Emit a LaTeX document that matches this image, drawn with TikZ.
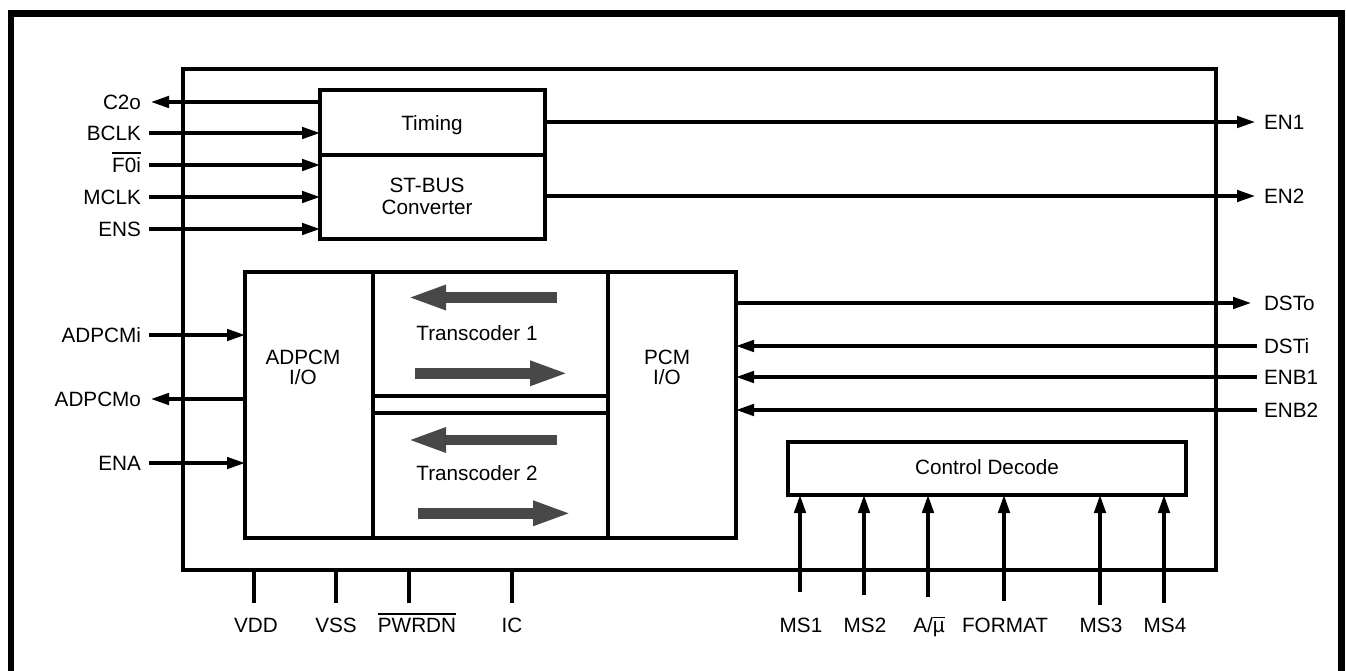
\documentclass[tikz,border=0pt]{standalone}
\usepackage{fontspec}
\setmainfont{Liberation Sans}
\usetikzlibrary{arrows.meta}
\definecolor{arrgray}{RGB}{72,72,72}
\newcommand\myovl[1]{\leavevmode\vbox{\hrule height 1.8pt\kern 3.2pt\hbox{#1}}}
\begin{document}
\begin{tikzpicture}[x=1pt,y=-1pt,
  blk/.style={draw,line width=4pt,inner sep=0pt,outer sep=0pt,anchor=north west},
  conn/.style={line width=3.2pt},
  arr/.style={conn,-{Triangle[length=18pt,width=11.5pt]}},
  bigarr/.style={draw=arrgray,line width=10.4pt,-{Triangle[length=39pt,width=22.4pt]}},
  txt/.style={inner sep=0pt,outer sep=0pt,font=\fontsize{20.7pt}{24pt}\selectfont},
  lbl/.style={txt,anchor=base east},
  rbl/.style={txt,anchor=base west},
  bbl/.style={txt,anchor=base}]
\useasboundingbox (0,0) rectangle (1346,671);
% outer frame
\draw[line width=6.5pt,line join=miter] (11,700) -- (11,13.5) -- (1341.5,13.5) -- (1341.5,700);
% blocks
\node[blk,minimum width=1033pt,minimum height=501pt] (chip) at (183,69) {};
\node[blk,minimum width=225pt,minimum height=65pt] (timing) at (320,90) {};
\node[blk,minimum width=225pt,minimum height=84pt] (stbus) at (320,155) {};
\node[blk,minimum width=128pt,minimum height=266pt] (adpcm) at (245,272) {};
\node[blk,minimum width=235pt,minimum height=124pt] (tc1) at (373,272) {};
\node[blk,minimum width=235pt,minimum height=125pt] (tc2) at (373,413) {};
\node[blk,minimum width=128pt,minimum height=266pt] (pcm) at (608,272) {};
\node[blk,minimum width=398pt,minimum height=53pt] (cd) at (788,442) {};
% block texts
\node[bbl] (tTiming) at (432,130.4) {Timing};
\node[bbl] (tST) at (427,192.4) {ST-BUS};
\node[bbl] (tConv) at (427,214.4) {Converter};
\node[bbl] (tAD) at (303,364.4) {ADPCM};
\node[bbl] (tADio) at (303,384.4) {I/O};
\node[bbl] (tPCM) at (667,364.4) {PCM};
\node[bbl] (tPCMio) at (667,384.4) {I/O};
\node[bbl] (tTC1) at (477,340.4) {Transcoder 1};
\node[bbl] (tTC2) at (477,480.4) {Transcoder 2};
\node[bbl] (tCD) at (987,474.4) {Control Decode};
% gray arrows
\draw[bigarr] (557,297.5) -- (407,297.5);
\draw[bigarr] (415,373.3) -- (569,373.3);
\draw[bigarr] (557,440) -- (407,440);
\draw[bigarr] (418,513.3) -- (572,513.3);
% left pins
\coordinate (pC2o) at (151,102);
\coordinate (pBCLK) at (149,133);
\coordinate (pF0i) at (149,165);
\coordinate (pMCLK) at (149,197);
\coordinate (pENS) at (149,229);
\coordinate (pADi) at (149,335);
\coordinate (pADo) at (151,399);
\coordinate (pENA) at (149,463);
\draw[arr] (timing.west |- pC2o) -- (pC2o);
\draw[arr] (pBCLK) -- (pBCLK -| timing.west);
\draw[arr] (pF0i) -- (pF0i -| stbus.west);
\draw[arr] (pMCLK) -- (pMCLK -| stbus.west);
\draw[arr] (pENS) -- (pENS -| stbus.west);
\draw[arr] (pADi) -- (pADi -| adpcm.west);
\draw[arr] (adpcm.west |- pADo) -- (pADo);
\draw[arr] (pENA) -- (pENA -| adpcm.west);
\node[lbl] (lC2o) at (141,109.4) {C2o};
\node[lbl] (lBCLK) at (141,140.4) {BCLK};
\node[lbl] (lF0i) at (141,172.4) {\myovl{F0i}};
\node[lbl] (lMCLK) at (141,204.4) {MCLK};
\node[lbl] (lENS) at (141,236.4) {ENS};
\node[lbl] (lADi) at (141,342.4) {ADPCMi};
\node[lbl] (lADo) at (141,406.4) {ADPCMo};
\node[lbl] (lENA) at (141,470.4) {ENA};
% right pins
\coordinate (pEN1) at (1255,122);
\coordinate (pEN2) at (1255,196);
\coordinate (pDSTo) at (1251,303);
\coordinate (pDSTi) at (1257,346);
\coordinate (pENB1) at (1257,377);
\coordinate (pENB2) at (1257,410);
\draw[arr] (timing.east |- pEN1) -- (pEN1);
\draw[arr] (stbus.east |- pEN2) -- (pEN2);
\draw[arr] (pcm.east |- pDSTo) -- (pDSTo);
\draw[arr] (pDSTi) -- (pDSTi -| pcm.east);
\draw[arr] (pENB1) -- (pENB1 -| pcm.east);
\draw[arr] (pENB2) -- (pENB2 -| pcm.east);
\node[rbl] (lEN1) at (1264,129.4) {EN1};
\node[rbl] (lEN2) at (1264,203.4) {EN2};
\node[rbl] (lDSTo) at (1264,310.4) {DSTo};
\node[rbl] (lDSTi) at (1264,353.4) {DSTi};
\node[rbl] (lENB1) at (1264,384.4) {ENB1};
\node[rbl] (lENB2) at (1264,417.4) {ENB2};
% bottom control pins
\coordinate (pMS1) at (800,592);
\coordinate (pMS2) at (864,595);
\coordinate (pAmu) at (928,597);
\coordinate (pFMT) at (1004,601);
\coordinate (pMS3) at (1100,605);
\coordinate (pMS4) at (1164,603);
\foreach \p in {pMS1,pMS2,pAmu,pFMT,pMS3,pMS4}
  \draw[arr] (\p) -- (\p |- cd.south);
\node[bbl] (lMS1) at (801,632.5) {MS1};
\node[bbl] (lMS2) at (865,632.5) {MS2};
\node[bbl] (lAmu) at (929,632.5) {A/\myovl{µ}};
\node[bbl] (lFMT) at (1005,632.5) {FORMAT};
\node[bbl] (lMS3) at (1101,632.5) {MS3};
\node[bbl] (lMS4) at (1165,632.5) {MS4};
% bottom power pins
\coordinate (pVDD) at (254,603);
\coordinate (pVSS) at (336,603);
\coordinate (pPWR) at (409,603);
\coordinate (pIC) at (512,603);
\foreach \p in {pVDD,pVSS,pPWR,pIC}
  \draw[conn] (\p |- chip.south) -- (\p);
\node[bbl] (lVDD) at (256,632.5) {VDD};
\node[bbl] (lVSS) at (336,632.5) {VSS};
\node[bbl] (lPWR) at (417,632.5) {\myovl{PWRDN}};
\node[bbl] (lIC) at (512,632.5) {IC};
\end{tikzpicture}
\end{document}
